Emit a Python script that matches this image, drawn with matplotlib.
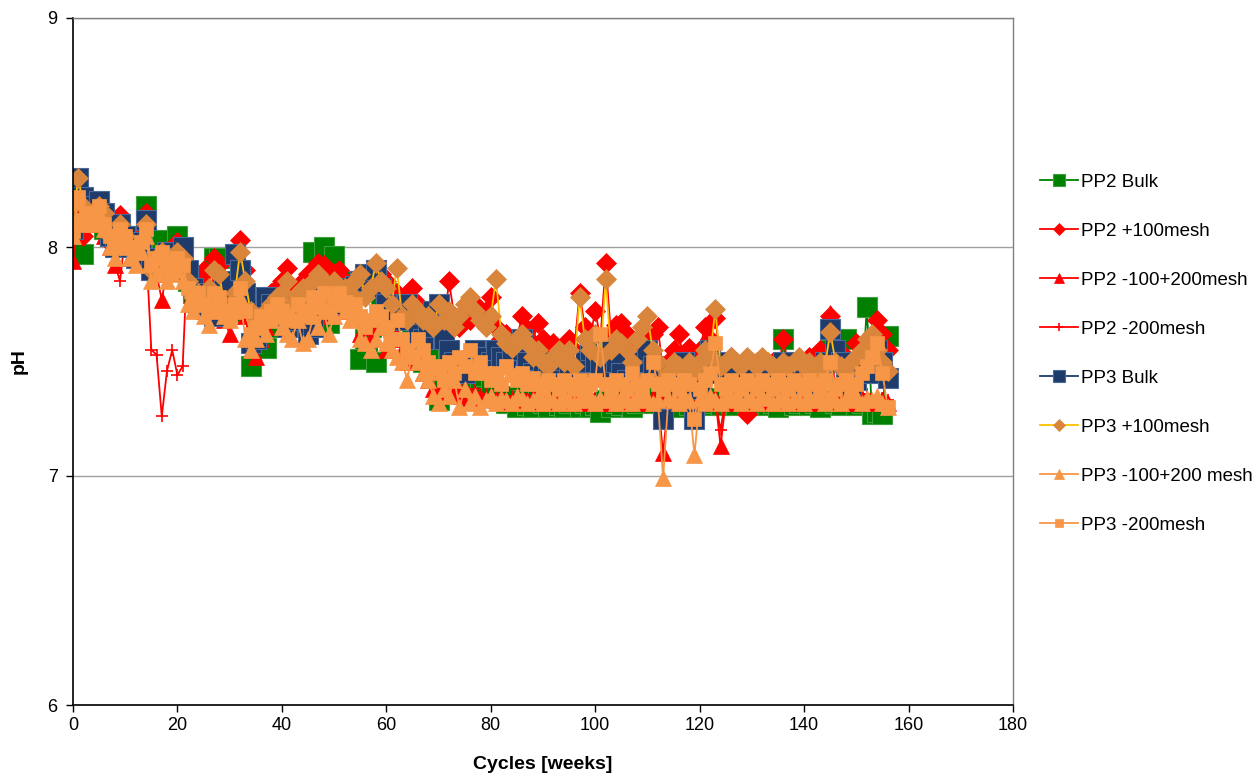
import matplotlib
matplotlib.use("Agg")
import matplotlib.pyplot as plt
import numpy as np

plt.rcParams['font.family'] = ['Liberation Sans', 'DejaVu Sans']

cycles = list(range(0, 157))

pp2_bulk = [
    8.02, 8.22, 7.97, 8.15, 8.14, 8.16, 8.08, 8.05, 8.02, 8.08,
    8.05, 8.02, 7.98, 8.00, 8.18, 7.95, 7.97, 8.03, 7.98, 7.95,
    8.05, 7.92, 7.85, 7.80, 7.82, 7.78, 7.85, 7.95, 7.95, 7.75,
    7.72, 7.78, 7.82, 7.75, 7.48, 7.60, 7.62, 7.56, 7.65, 7.70,
    7.72, 7.68, 7.65, 7.75, 7.78, 7.80, 7.98, 7.85, 8.00, 7.67,
    7.96, 7.85, 7.82, 7.85, 7.80, 7.51, 7.60, 7.65, 7.50, 7.75,
    7.80, 7.72, 7.70, 7.75, 7.70, 7.65, 7.52, 7.50, 7.55, 7.45,
    7.33, 7.42, 7.45, 7.40, 7.38, 7.42, 7.35, 7.40, 7.38, 7.35,
    7.38, 7.35, 7.33, 7.32, 7.35, 7.30, 7.33, 7.31, 7.30, 7.34,
    7.32, 7.30, 7.33, 7.31, 7.30, 7.32, 7.34, 7.30, 7.32, 7.30,
    7.31, 7.28, 7.33, 7.30, 7.32, 7.31, 7.33, 7.30, 7.32, 7.35,
    7.33, 7.32, 7.34, 7.31, 7.33, 7.32, 7.30, 7.33, 7.31, 7.32,
    7.33, 7.31, 7.32, 7.34, 7.31, 7.33, 7.32, 7.31, 7.33, 7.32,
    7.31, 7.32, 7.33, 7.31, 7.32, 7.30, 7.60, 7.33, 7.31, 7.32,
    7.33, 7.31, 7.32, 7.30, 7.33, 7.55, 7.32, 7.31, 7.60, 7.33,
    7.31, 7.32, 7.74, 7.27, 7.28, 7.27, 7.61]

pp2_100 = [
    8.10, 8.18, 8.05, 8.15, 8.12, 8.15, 8.10, 8.05, 8.00, 8.14,
    8.05, 8.02, 7.98, 8.05, 8.15, 7.92, 7.95, 7.98, 7.95, 7.92,
    8.02, 7.98, 7.88, 7.82, 7.85, 7.90, 7.85, 7.95, 7.92, 7.80,
    7.70, 7.85, 8.03, 7.90, 7.75, 7.70, 7.72, 7.75, 7.80, 7.82,
    7.85, 7.91, 7.80, 7.82, 7.85, 7.88, 7.90, 7.93, 7.92, 7.85,
    7.88, 7.90, 7.85, 7.82, 7.85, 7.88, 7.80, 7.85, 7.90, 7.88,
    7.85, 7.75, 7.80, 7.72, 7.70, 7.82, 7.75, 7.70, 7.72, 7.68,
    7.70, 7.65, 7.85, 7.70, 7.65, 7.72, 7.68, 7.75, 7.70, 7.72,
    7.78, 7.65, 7.60, 7.62, 7.58, 7.60, 7.70, 7.64, 7.58, 7.67,
    7.60, 7.55, 7.58, 7.52, 7.55, 7.60, 7.55, 7.80, 7.65, 7.60,
    7.72, 7.60, 7.93, 7.62, 7.66, 7.67, 7.62, 7.58, 7.55, 7.60,
    7.58, 7.62, 7.65, 7.45, 7.50, 7.55, 7.62, 7.50, 7.56, 7.52,
    7.55, 7.65, 7.60, 7.69, 7.50, 7.48, 7.52, 7.50, 7.45, 7.27,
    7.48, 7.50, 7.45, 7.48, 7.50, 7.45, 7.60, 7.48, 7.50, 7.45,
    7.50, 7.52, 7.48, 7.55, 7.50, 7.70, 7.55, 7.50, 7.52, 7.48,
    7.58, 7.50, 7.55, 7.60, 7.68, 7.62, 7.55]

pp2_100_200 = [
    7.94, 8.15, 8.08, 8.12, 8.10, 8.12, 8.05, 8.00, 7.92, 8.05,
    8.00, 7.95, 7.95, 8.00, 8.12, 7.90, 7.88, 7.77, 7.90, 7.92,
    7.95, 7.92, 7.85, 7.75, 7.78, 7.72, 7.75, 7.80, 7.70, 7.68,
    7.62, 7.75, 7.80, 7.70, 7.55, 7.52, 7.60, 7.65, 7.70, 7.72,
    7.70, 7.65, 7.72, 7.75, 7.70, 7.88, 7.75, 7.72, 7.78, 7.70,
    7.75, 7.72, 7.78, 7.75, 7.70, 7.62, 7.65, 7.60, 7.65, 7.70,
    7.55, 7.60, 7.62, 7.55, 7.50, 7.58, 7.50, 7.45, 7.42, 7.38,
    7.35, 7.40, 7.38, 7.36, 7.35, 7.38, 7.34, 7.36, 7.35, 7.34,
    7.35, 7.33, 7.34, 7.32, 7.33, 7.35, 7.32, 7.33, 7.34, 7.32,
    7.33, 7.32, 7.34, 7.33, 7.32, 7.33, 7.35, 7.32, 7.33, 7.34,
    7.32, 7.33, 7.34, 7.32, 7.33, 7.34, 7.32, 7.33, 7.35, 7.33,
    7.32, 7.34, 7.33, 7.10, 7.33, 7.34, 7.32, 7.33, 7.34, 7.32,
    7.33, 7.35, 7.32, 7.34, 7.13, 7.33, 7.32, 7.34, 7.33, 7.32,
    7.34, 7.33, 7.32, 7.35, 7.33, 7.32, 7.34, 7.33, 7.32, 7.34,
    7.33, 7.32, 7.34, 7.33, 7.35, 7.71, 7.33, 7.32, 7.34, 7.33,
    7.32, 7.34, 7.33, 7.32, 7.34, 7.33, 7.32]

pp2_200 = [
    8.10, 8.15, 8.12, 8.15, 8.10, 8.12, 8.05, 8.00, 7.93, 7.85,
    8.05, 8.00, 7.95, 7.98, 8.00, 7.55, 7.53, 7.26, 7.46, 7.55,
    7.44, 7.48, 8.00, 7.85, 7.80, 7.75, 7.78, 7.82, 7.75, 7.72,
    7.70, 7.75, 7.80, 7.72, 7.60, 7.58, 7.62, 7.65, 7.68, 7.70,
    7.72, 7.70, 7.68, 7.72, 7.75, 7.78, 7.80, 7.75, 7.78, 7.72,
    7.75, 7.78, 7.80, 7.76, 7.72, 7.65, 7.68, 7.65, 7.70, 7.72,
    7.68, 7.65, 7.62, 7.60, 7.58, 7.60, 7.55, 7.50, 7.48, 7.45,
    7.42, 7.40, 7.42, 7.38, 7.40, 7.38, 7.36, 7.38, 7.35, 7.36,
    7.35, 7.34, 7.36, 7.33, 7.35, 7.34, 7.36, 7.33, 7.35, 7.34,
    7.36, 7.34, 7.33, 7.35, 7.34, 7.36, 7.33, 7.35, 7.34, 7.36,
    7.34, 7.33, 7.35, 7.36, 7.34, 7.33, 7.35, 7.34, 7.36, 7.34,
    7.33, 7.35, 7.34, 7.36, 7.34, 7.33, 7.35, 7.34, 7.36, 7.33,
    7.35, 7.34, 7.36, 7.33, 7.20, 7.35, 7.34, 7.36, 7.33, 7.35,
    7.34, 7.36, 7.33, 7.35, 7.34, 7.36, 7.33, 7.35, 7.34, 7.36,
    7.34, 7.33, 7.35, 7.36, 7.34, 7.33, 7.35, 7.34, 7.36, 7.33,
    7.35, 7.34, 7.36, 7.33, 7.35, 7.34, 7.33]

pp3_bulk = [
    8.08, 8.30, 8.22, 8.15, 8.18, 8.20, 8.15, 8.05, 8.00, 8.10,
    8.05, 8.00, 7.95, 8.02, 8.12, 7.90, 7.95, 7.92, 7.98, 7.95,
    7.90, 8.00, 7.90, 7.82, 7.75, 7.80, 7.72, 7.70, 7.75, 7.85,
    7.85, 7.97, 7.90, 7.80, 7.58, 7.60, 7.70, 7.78, 7.75, 7.72,
    7.70, 7.65, 7.68, 7.70, 7.72, 7.62, 7.65, 7.78, 7.82, 7.80,
    7.75, 7.78, 7.82, 7.80, 7.83, 7.85, 7.88, 7.86, 7.90, 7.82,
    7.75, 7.70, 7.68, 7.72, 7.75, 7.70, 7.62, 7.60, 7.65, 7.72,
    7.75, 7.60, 7.55, 7.50, 7.48, 7.45, 7.50, 7.55, 7.52, 7.48,
    7.50, 7.55, 7.52, 7.50, 7.55, 7.58, 7.60, 7.50, 7.45, 7.42,
    7.48, 7.50, 7.45, 7.42, 7.40, 7.45, 7.40, 7.45, 7.50, 7.55,
    7.50, 7.48, 7.45, 7.55, 7.50, 7.45, 7.42, 7.40, 7.45, 7.50,
    7.55, 7.48, 7.45, 7.25, 7.40, 7.42, 7.45, 7.50, 7.40, 7.25,
    7.38, 7.45, 7.55, 7.50, 7.45, 7.42, 7.45, 7.40, 7.38, 7.42,
    7.45, 7.40, 7.42, 7.38, 7.40, 7.45, 7.50, 7.42, 7.45, 7.40,
    7.42, 7.45, 7.40, 7.45, 7.50, 7.64, 7.55, 7.50, 7.45, 7.40,
    7.42, 7.48, 7.50, 7.45, 7.55, 7.50, 7.43]

pp3_100 = [
    8.12, 8.30, 8.18, 8.15, 8.12, 8.18, 8.15, 8.05, 8.02, 8.10,
    8.05, 8.00, 7.98, 8.02, 8.10, 7.90, 7.95, 7.98, 7.92, 7.95,
    7.98, 7.95, 7.85, 7.78, 7.80, 7.75, 7.82, 7.90, 7.88, 7.75,
    7.72, 7.80, 7.98, 7.85, 7.72, 7.68, 7.70, 7.72, 7.75, 7.78,
    7.80, 7.85, 7.75, 7.80, 7.82, 7.80, 7.85, 7.88, 7.85, 7.82,
    7.85, 7.80, 7.82, 7.80, 7.85, 7.88, 7.78, 7.82, 7.93, 7.85,
    7.82, 7.75, 7.91, 7.70, 7.68, 7.75, 7.72, 7.68, 7.70, 7.65,
    7.75, 7.68, 7.72, 7.65, 7.70, 7.75, 7.78, 7.72, 7.68, 7.65,
    7.70, 7.86, 7.62, 7.58, 7.56, 7.60, 7.62, 7.58, 7.52, 7.55,
    7.50, 7.48, 7.52, 7.55, 7.50, 7.55, 7.48, 7.78, 7.60, 7.55,
    7.62, 7.52, 7.86, 7.55, 7.60, 7.58, 7.55, 7.50, 7.60, 7.65,
    7.70, 7.55, 7.50, 7.42, 7.45, 7.50, 7.48, 7.45, 7.50, 7.45,
    7.50, 7.55, 7.52, 7.73, 7.48, 7.50, 7.52, 7.50, 7.48, 7.52,
    7.50, 7.48, 7.52, 7.50, 7.48, 7.45, 7.50, 7.48, 7.50, 7.52,
    7.48, 7.50, 7.45, 7.50, 7.48, 7.63, 7.50, 7.48, 7.45, 7.50,
    7.52, 7.55, 7.60, 7.62, 7.55, 7.50, 7.46]

pp3_100_200 = [
    8.05, 8.20, 8.10, 8.12, 8.10, 8.15, 8.08, 8.00, 7.95, 8.02,
    8.00, 7.95, 7.92, 7.98, 8.05, 7.85, 7.88, 7.90, 7.85, 7.88,
    7.90, 7.85, 7.75, 7.72, 7.75, 7.70, 7.66, 7.72, 7.75, 7.70,
    7.68, 7.72, 7.78, 7.60, 7.55, 7.60, 7.65, 7.62, 7.68, 7.70,
    7.65, 7.62, 7.60, 7.68, 7.58, 7.60, 7.70, 7.65, 7.72, 7.62,
    7.70, 7.75, 7.72, 7.68, 7.70, 7.60, 7.58, 7.55, 7.60, 7.65,
    7.58, 7.55, 7.52, 7.50, 7.42, 7.54, 7.50, 7.45, 7.42, 7.35,
    7.32, 7.38, 7.35, 7.42, 7.30, 7.38, 7.32, 7.35, 7.30, 7.33,
    7.35, 7.32, 7.34, 7.33, 7.32, 7.35, 7.34, 7.32, 7.33, 7.35,
    7.32, 7.34, 7.33, 7.32, 7.35, 7.33, 7.32, 7.34, 7.33, 7.35,
    7.32, 7.34, 7.33, 7.35, 7.32, 7.34, 7.33, 7.32, 7.35, 7.33,
    7.34, 7.32, 7.33, 6.99, 7.34, 7.33, 7.32, 7.35, 7.33, 7.09,
    7.34, 7.32, 7.35, 7.33, 7.32, 7.34, 7.33, 7.35, 7.32, 7.34,
    7.33, 7.32, 7.35, 7.34, 7.32, 7.33, 7.35, 7.32, 7.34, 7.33,
    7.32, 7.35, 7.33, 7.34, 7.32, 7.35, 7.33, 7.32, 7.34, 7.33,
    7.35, 7.32, 7.34, 7.33, 7.35, 7.32, 7.30]

pp3_200 = [
    8.07, 8.22, 8.12, 8.15, 8.15, 8.18, 8.10, 8.05, 8.00, 8.08,
    8.05, 8.00, 7.98, 8.02, 8.08, 7.92, 7.95, 7.98, 7.90, 7.92,
    7.95, 7.92, 7.82, 7.78, 7.80, 7.75, 7.72, 7.80, 7.78, 7.72,
    7.70, 7.75, 7.82, 7.72, 7.62, 7.65, 7.70, 7.68, 7.72, 7.75,
    7.72, 7.70, 7.68, 7.75, 7.70, 7.72, 7.78, 7.74, 7.80, 7.72,
    7.78, 7.80, 7.76, 7.72, 7.75, 7.70, 7.65, 7.68, 7.72, 7.70,
    7.65, 7.60, 7.68, 7.60, 7.55, 7.52, 7.60, 7.55, 7.50, 7.45,
    7.48, 7.42, 7.50, 7.45, 7.52, 7.48, 7.55, 7.45, 7.50, 7.45,
    7.42, 7.45, 7.40, 7.48, 7.44, 7.42, 7.45, 7.40, 7.43, 7.40,
    7.38, 7.42, 7.40, 7.38, 7.42, 7.40, 7.38, 7.42, 7.38, 7.40,
    7.42, 7.62, 7.40, 7.38, 7.42, 7.40, 7.38, 7.45, 7.40, 7.38,
    7.42, 7.50, 7.40, 7.38, 7.42, 7.40, 7.38, 7.42, 7.40, 7.25,
    7.38, 7.42, 7.45, 7.58, 7.40, 7.38, 7.42, 7.40, 7.38, 7.42,
    7.40, 7.38, 7.42, 7.40, 7.38, 7.42, 7.40, 7.38, 7.42, 7.40,
    7.38, 7.42, 7.40, 7.38, 7.42, 7.50, 7.38, 7.40, 7.42, 7.38,
    7.40, 7.45, 7.48, 7.52, 7.58, 7.45, 7.30]

labels = ["PP2 Bulk", "PP2 +100mesh", "PP2 -100+200mesh", "PP2 -200mesh",
          "PP3 Bulk", "PP3 +100mesh", "PP3 -100+200 mesh", "PP3 -200mesh"]

series = [pp2_bulk, pp2_100, pp2_100_200, pp2_200,
          pp3_bulk, pp3_100, pp3_100_200, pp3_200]

styles = [
    dict(color='#008000', marker='s', ms=15, mfc='#008000', mec='#3f9f3f', mew=0.8),
    dict(color='#FF0000', marker='D', ms=10.5, mfc='#FF0000', mec='#FF0000', mew=0.5),
    dict(color='#FF0000', marker='^', ms=11.5, mfc='#FF0000', mec='#FF0000', mew=0.5),
    dict(color='#FF0000', marker='+', ms=9, mfc='#FF0000', mec='#FF0000', mew=1.2),
    dict(color='#1F3B6B', marker='s', ms=15, mfc='#1F3B6B', mec='#4A6A9A', mew=0.8),
    dict(color='#FFC000', marker='D', ms=10.5, mfc='#D9853B', mec='#D9853B', mew=0.5),
    dict(color='#F79646', marker='^', ms=11.5, mfc='#F79646', mec='#F79646', mew=0.5),
    dict(color='#F79646', marker='s', ms=9.5, mfc='#F79646', mec='#F79646', mew=0.5),
]

fig = plt.figure(figsize=(12.58, 7.80), dpi=100)
ax = fig.add_axes([73/1258, 75/780, 940/1258, 687/780])

handles = []
for lab, vals, st in zip(labels, series, styles):
    h, = ax.plot(cycles, vals, lw=1.3, label=lab, **st)
    handles.append(h)

ax.set_xlim(0, 180)
ax.set_ylim(6, 9)
ax.set_xticks(np.arange(0, 181, 20))
ax.set_yticks([6, 7, 8, 9])
ax.yaxis.grid(True, color='#a0a0a0', lw=1)
ax.set_axisbelow(True)
for side in ['top', 'right']:
    ax.spines[side].set_color('#808080')
    ax.spines[side].set_linewidth(1)
for side in ['left', 'bottom']:
    ax.spines[side].set_color('black')
    ax.spines[side].set_linewidth(1.2)
ax.tick_params(axis='both', direction='out', length=5, width=1, labelsize=13,
               colors='black')
ax.tick_params(axis='y', pad=6)
ax.set_xlabel('Cycles [weeks]', fontsize=14, fontweight='bold', labelpad=16)
ax.set_ylabel('pH', fontsize=14, fontweight='bold', labelpad=14)

leg = fig.legend(handles=handles, labels=labels, loc='center left',
                 bbox_to_anchor=(1040/1258, 1 - 353.5/780), frameon=False,
                 fontsize=13.5, markerscale=0.6, handlelength=2.0,
                 labelspacing=1.7, handletextpad=0.2,
                 borderpad=0, borderaxespad=0)

fig.savefig('out.png', dpi=100)
